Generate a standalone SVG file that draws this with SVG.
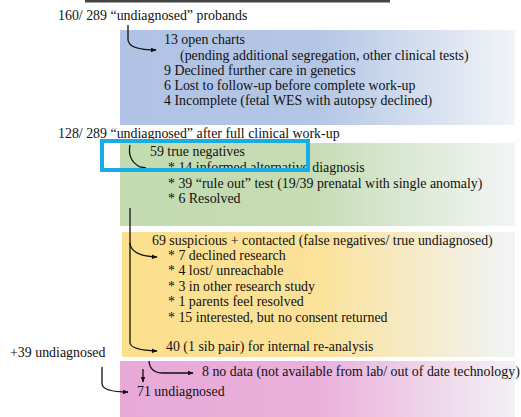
<svg xmlns="http://www.w3.org/2000/svg" width="521" height="417" viewBox="0 0 521 417">
<style>
text{font-family:"Liberation Serif","Times New Roman",serif;font-size:13.9px;fill:#111}
.c{fill:none;stroke:#111;stroke-width:1.3}
</style>
<defs>
<linearGradient id="gb" x1="0" x2="1" y1="0" y2="0"><stop offset="0" stop-color="#b0c3e4"/><stop offset="0.5" stop-color="#b4c6e5"/><stop offset="1" stop-color="#f1f4f8"/></linearGradient>
<linearGradient id="gg" x1="0" x2="1" y1="0" y2="0"><stop offset="0" stop-color="#c3dbb0"/><stop offset="0.48" stop-color="#c6dcb4"/><stop offset="1" stop-color="#f2f5f5"/></linearGradient>
<linearGradient id="gy" x1="0" x2="1" y1="0" y2="0"><stop offset="0" stop-color="#fcdf8c"/><stop offset="0.5" stop-color="#fbe29a"/><stop offset="1" stop-color="#f1f4f7"/></linearGradient>
<linearGradient id="gp" x1="0" x2="1" y1="0" y2="0"><stop offset="0" stop-color="#e8a9d8"/><stop offset="0.5" stop-color="#eab0db"/><stop offset="1" stop-color="#f3f1f6"/></linearGradient>
<marker id="ah" viewBox="0 0 10 10" refX="9" refY="5" markerWidth="6" markerHeight="6" markerUnits="userSpaceOnUse" orient="auto"><path d="M0,1 L10,5 L0,9 z" fill="#111"/></marker>
</defs>
<rect x="85" y="0" width="305" height="2.5" fill="#444"/>
<g id="panel-blue">
<rect x="120" y="30" width="395" height="95" fill="url(#gb)"/>
<text x="164" y="44">13 open charts</text>
<text x="180" y="59.5">(pending additional segregation, other clinical tests)</text>
<text x="164" y="74.5">9 Declined further care in genetics</text>
<text x="164" y="89.5">6 Lost to follow-up before complete work-up</text>
<text x="164" y="104.7">4 Incomplete (fetal WES with autopsy declined)</text>
</g>
<g id="panel-green">
<rect x="120" y="143" width="395" height="83" fill="url(#gg)"/>
<text x="150" y="156">59 true negatives</text>
<text x="168" y="172">* 14 informed alternative diagnosis</text>
<text x="168" y="187.5">* 39 “rule out” test (19/39 prenatal with single anomaly)</text>
<text x="168" y="203">* 6 Resolved</text>
</g>
<g id="panel-yellow">
<rect x="122" y="232" width="393" height="125" fill="url(#gy)"/>
<text x="152" y="245">69 suspicious + contacted (false negatives/ true undiagnosed)</text>
<text x="168" y="259.5">* 7 declined research</text>
<text x="168" y="275">* 4 lost/ unreachable</text>
<text x="168" y="290.5">* 3 in other research study</text>
<text x="168" y="306">* 1 parents feel resolved</text>
<text x="168" y="321.5">* 15 interested, but no consent returned</text>
<text x="166" y="351">40 (1 sib pair) for internal re-analysis</text>
</g>
<g id="panel-pink">
<rect x="120" y="361" width="395" height="56" fill="url(#gp)"/>
<text x="202" y="376">8 no data (not available from lab/ out of date technology)</text>
<text x="137" y="396">71 undiagnosed</text>
</g>
<g id="labels">
<text x="58" y="20">160/ 289 “undiagnosed” probands</text>
<text x="58" y="138">128/ 289 “undiagnosed” after full clinical work-up</text>
<text x="10" y="357">+39 undiagnosed</text>
</g>
<g id="connectors">
<path class="c" d="M128,25 L128,40 Q129,50 156,50" marker-end="url(#ah)"/>
<path class="c" d="M130,145 Q127,160 140,167 L146,168"/>
<path class="c" d="M130,208 L130,343 Q131,350 157,351" marker-end="url(#ah)"/>
<path class="c" d="M130,243 Q131,256 157,257" marker-end="url(#ah)"/>
<path class="c" d="M102,367 L102,384 Q103,392 128,392" marker-end="url(#ah)"/>
<path class="c" d="M143,369 L143,382" marker-end="url(#ah)"/>
<path class="c" d="M149,361 Q150,373 163,373 L193,373" marker-end="url(#ah)"/>
</g>
<rect id="highlight" x="102" y="141" width="206" height="29" fill="none" stroke="#19ade3" stroke-width="4"/>
</svg>
